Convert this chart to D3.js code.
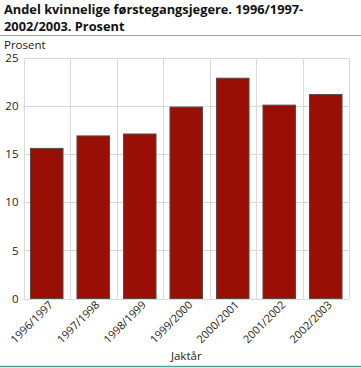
<!DOCTYPE html>
<html><head><meta charset="utf-8">
<script src="https://cdn.jsdelivr.net/npm/d3@7"></script>
<style>body{margin:0;background:#fff}svg{display:block}</style>
</head><body>
<script>
const categories = ["1996/1997","1997/1998","1998/1999","1999/2000","2000/2001","2001/2002","2002/2003"];
const values = [15.6, 16.9, 17.1, 19.9, 22.9, 20.1, 21.2];
const yTicks = [0,5,10,15,20,25];
const titleLines = ["Andel kvinnelige førstegangsjegere. 1996/1997-","2002/2003. Prosent"];
const yLabel = "Prosent";
const xLabel = "Jaktår";

const W = 361, H = 368;
const m = {left: 23.5, right: 12, top: 58, bottom: 69.5};
const svg = d3.select("body").append("svg").attr("width", W).attr("height", H);
const font = "'Open Sans', 'DejaVu Sans', sans-serif";

svg.selectAll("text.title").data(titleLines).join("text")
  .attr("x", 4).attr("y", (d,i) => 13.5 + i*17.6)
  .attr("font-family", font).attr("font-weight", "bold").attr("font-size", 12.8)
  .attr("fill", "#111").text(d => d);
svg.append("line").attr("x1",0).attr("x2",W).attr("y1",35.5).attr("y2",35.5)
  .attr("stroke","#6fb3b3").attr("stroke-width",1);
svg.append("line").attr("x1",0).attr("x2",W).attr("y1",366.5).attr("y2",366.5)
  .attr("stroke","#4e9e98").attr("stroke-width",1.5);

const x = d3.scaleBand().domain(categories).range([m.left, W - m.right]).paddingInner(0.3).paddingOuter(0.15);
const y = d3.scaleLinear().domain([0,25]).range([H - m.bottom, m.top]);

const grid = svg.append("g");
grid.selectAll("line.h").data(yTicks).join("line")
  .attr("x1", m.left).attr("x2", W - m.right)
  .attr("y1", d => Math.round(y(d))+0.5).attr("y2", d => Math.round(y(d))+0.5)
  .attr("stroke", "#d9d9d9");
const bounds = d3.range(categories.length + 1).map(i => m.left + i * (W - m.left - m.right) / categories.length);
grid.selectAll("line.v").data(bounds).join("line")
  .attr("x1", d => Math.round(d)+0.5).attr("x2", d => Math.round(d)+0.5)
  .attr("y1", m.top).attr("y2", H - m.bottom)
  .attr("stroke", "#d9d9d9");

svg.append("g").selectAll("rect").data(values).join("rect")
  .attr("x", (d,i) => x(categories[i])).attr("width", x.bandwidth())
  .attr("y", d => y(d)).attr("height", d => y(0) - y(d))
  .attr("fill", "#990f06").attr("stroke", "#5a4a48").attr("stroke-width", 1);

const yAxis = svg.append("g").attr("transform", `translate(${m.left},0)`)
  .call(d3.axisLeft(y).tickValues(yTicks).tickSize(0).tickPadding(5));
yAxis.select(".domain").remove();
yAxis.selectAll("text").attr("font-family", font).attr("font-size", 11.5).attr("fill", "#222");

const xAxis = svg.append("g").attr("transform", `translate(0,${H - m.bottom})`)
  .call(d3.axisBottom(x).tickSize(0).tickPadding(0));
xAxis.select(".domain").remove();
xAxis.selectAll("text").attr("font-family", font).attr("font-size", 11).attr("fill", "#222")
  .attr("text-anchor", "end").attr("dy", 0)
  .attr("transform", "translate(7,7) rotate(-45)");

svg.append("text").attr("x", 4).attr("y", 48.5).attr("font-family", font).attr("font-size", 11.5)
  .attr("fill", "#222").text(yLabel);
svg.append("text").attr("x", (m.left + W - m.right)/2).attr("y", 360).attr("text-anchor","middle")
  .attr("font-family", font).attr("font-size", 11.5).attr("fill", "#222").text(xLabel);
</script>
</body></html>
